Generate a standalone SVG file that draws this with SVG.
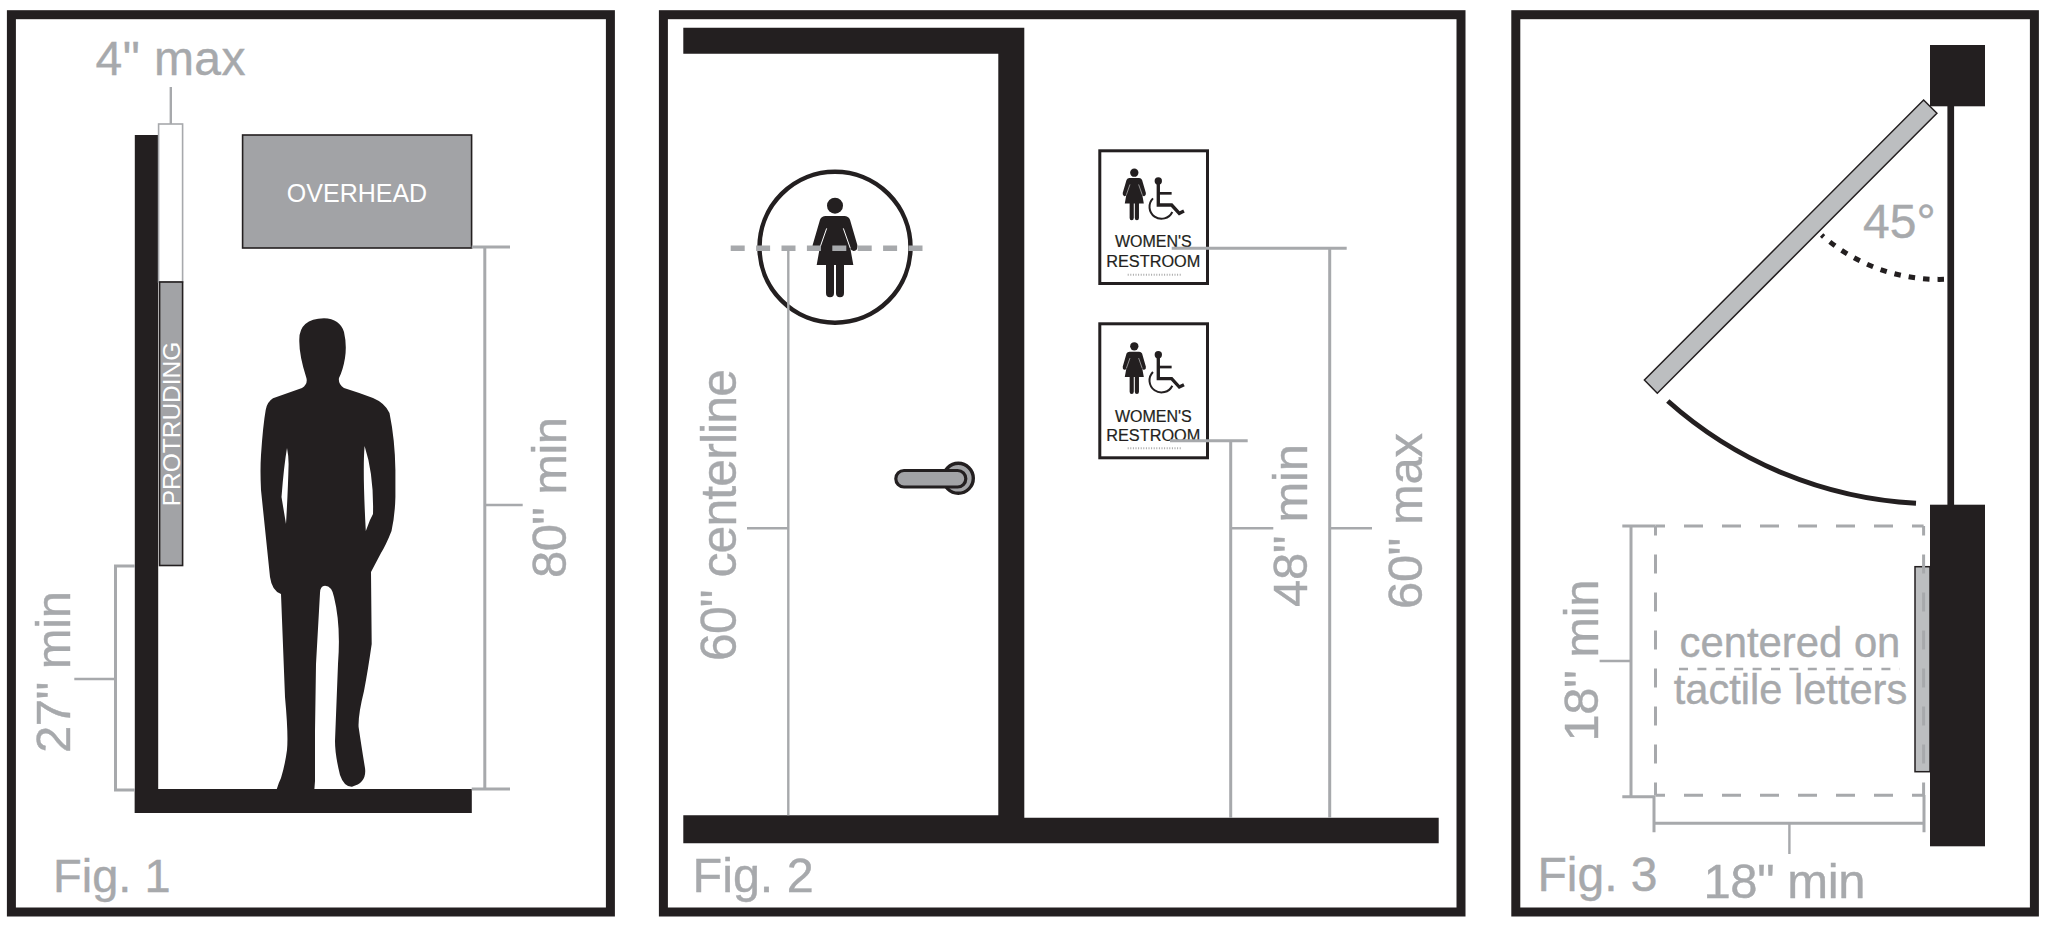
<svg xmlns="http://www.w3.org/2000/svg" width="2048" height="928" viewBox="0 0 2048 928">
<style>
text{font-family:"Liberation Sans",Arial,sans-serif}
.d{fill:#231f20}
.fr{fill:#fff;stroke:#231f20;stroke-width:9}
.g{stroke:#a7a9ac;stroke-width:3;fill:none}
.t{stroke:#a7a9ac;stroke-width:2.4;fill:none}
.lab{fill:#a7a9ac;font-size:48px;stroke:#a7a9ac;stroke-width:0.4}
.sign{fill:#fff;stroke:#231f20;stroke-width:3}
.st{fill:#231f20;stroke:#231f20;stroke-width:0.2;font-size:16px;text-anchor:middle}
.br{stroke:#aaa;stroke-width:2;stroke-dasharray:1 1.6;fill:none}
.ds{stroke:#a7a9ac;stroke-width:3;stroke-dasharray:19 19;stroke-dashoffset:9.5;fill:none}
</style>
<defs>
<g id="woman"><circle cx="0" cy="0" r="24" fill="#231f20"/><path fill="#231f20" d="M-28,31 H28 Q40,31 45,42 L67,118 Q69,134 57,136 Q49,137 46,128 L55,178 H27 V262 Q27,275 15,275 Q3,275 3,262 V178 H-3 V262 Q-3,275 -15,275 Q-27,275 -27,262 V178 H-55 L-46,128 Q-49,137 -57,136 Q-69,134 -67,118 L-45,42 Q-40,31 -28,31 Z"/><path d="M25,68 L46,128 M-25,68 L-46,128" stroke="#fff" stroke-width="3" fill="none"/></g>
<g id="chair" fill="none" stroke="#231f20"><circle cx="0" cy="0" r="11" fill="#231f20" stroke="none"/><path stroke-width="10" d="M0,0 V72 H40 L63,97 L77,90"/><path stroke-width="8" d="M0,37 H40"/><path stroke-width="6" d="M-16,52 A36,36 0 1 0 42,93"/></g>
</defs>

<g id="fig1">
<rect class="fr" x="11.4" y="14.7" width="599" height="897.3"/>
<g id="fig1-walls"><rect class="d" x="134.8" y="135" width="23.4" height="678"/><rect class="d" x="134.8" y="789" width="337" height="24"/></g>
<rect x="158.6" y="124" width="24" height="158" fill="#fff" stroke="#a7a9ac" stroke-width="1.6"/>
<g id="protruding"><rect x="159.6" y="282" width="23" height="283.5" fill="#a2a3a6" stroke="#231f20" stroke-width="1.6"/>
<text transform="translate(180,424) rotate(-90)" text-anchor="middle" font-size="24.5" fill="#fff">PROTRUDING</text></g>
<g id="overhead"><rect x="242.6" y="135" width="229" height="113" fill="#a2a3a6" stroke="#231f20" stroke-width="1.6"/>
<text x="357" y="201.5" text-anchor="middle" font-size="25" fill="#fff">OVERHEAD</text></g>
<g id="person"><path class="d" d="M324,318.3 Q340,319 344,332 Q347,345 345,358 Q343,370 339,378 Q338,384 344,388 Q360,393 373,398 Q385,403 389.5,413 Q395,440 395.4,470 V497 Q395,515 391.5,531 Q386,545 381,553 L371,572 L371.7,644 Q368,670 364,691 Q358,715 358.6,727 Q362,750 365,768 Q367,783 352,786.7 Q344,787 340,775 Q335,755 335,741 L338,664 Q341,625 334,597 Q332,586 325,585.7 Q320,586 320,593 L316,664 L315,731 V781 L314.4,789 H276.8 Q279,782 281,778 Q285,765 287,750 Q288.5,735 285,697 L281,594 Q272,591 270,577 L261,490 Q260,470 261,455 Q263,425 265.7,410 Q267,402 273,398.3 L302,388 Q308,384 306.4,378 Q299,355 299.3,340 Q299,319 324,318.3 Z"/>
<path fill="#fff" d="M287,448 Q284,465 281.5,497 L286,524 Q288,490 288.6,464 Q288.5,455 287,448 Z M364.6,446 Q362.5,470 365.8,531 L370,520 L373,514 Q374,475 364.6,446 Z"/></g>
<g id="fig1-connectors">
<path class="t" d="M170.8,87 V124"/>
<path class="g" d="M471.7,247 H510 M484.8,247 V789 M471.7,789 H510"/><path class="t" d="M484.8,505 H522.7"/>
<path class="g" d="M134.8,566 H115.5 V790 H134.8"/><path class="t" d="M74.3,679 H115.5"/>
</g>
<text class="lab" x="95.5" y="75" textLength="150">4" max</text>
<text class="lab" transform="translate(566,497.5) rotate(-90)" text-anchor="middle" textLength="161" style="font-size:49px">80" min</text>
<text class="lab" transform="translate(70,672) rotate(-90)" text-anchor="middle" textLength="162" style="font-size:49px">27" min</text>
<text class="lab" x="53" y="891.5" style="font-size:47px">Fig. 1</text>
</g>

<g id="fig2">
<rect class="fr" x="663.4" y="14.7" width="797.6" height="897.3"/>
<g id="fig2-walls"><path class="d" d="M683.3,27.7 H1024.3 V817.7 H1438.7 V843.3 H683.3 V815.3 H998.3 V53.7 H683.3 Z"/></g>
<g id="door-sign"><circle cx="835" cy="247.3" r="75.5" fill="#fff" stroke="#231f20" stroke-width="4.5"/>
<use href="#woman" transform="translate(835,205.7) scale(0.3333)"/></g>
<g id="handle"><circle cx="958.3" cy="478.3" r="15" fill="#a2a3a6" stroke="#231f20" stroke-width="3.4"/>
<rect x="895.8" y="470.5" width="70" height="16.5" rx="8.2" fill="#a2a3a6" stroke="#231f20" stroke-width="3.2"/></g>
<g id="sign-upper"><rect class="sign" x="1099.8" y="150.8" width="107.7" height="132.7"/>
<use href="#woman" transform="translate(1134.3,172.7) scale(0.173)"/><use href="#chair" transform="translate(1158.3,181) scale(0.3333)"/>
<text class="st" x="1153.3" y="246.7">WOMEN'S</text><text class="st" x="1153.3" y="266.7" style="font-size:16.3px">RESTROOM</text>
<path class="br" d="M1127.7,274.7 H1181"/></g>
<g id="sign-lower"><rect class="sign" x="1099.8" y="323.8" width="107.7" height="134"/>
<use href="#woman" transform="translate(1134.3,346.3) scale(0.173)"/><use href="#chair" transform="translate(1158.3,354.7) scale(0.3333)"/>
<text class="st" x="1153.3" y="421.7">WOMEN'S</text><text class="st" x="1153.3" y="441" style="font-size:16.3px">RESTROOM</text>
<path class="br" d="M1127.7,448.3 H1181"/></g>
<g id="fig2-connectors">
<path d="M730.7,248.3 H923" fill="none" stroke="#a7a9ac" stroke-width="5.5" stroke-dasharray="14 11.4"/>
<path class="t" d="M788.3,250 V815.3 M747,528.3 H788.3"/>
<path class="g" d="M1171.7,248.3 H1346.7 M1329.7,248.3 V817.7 M1170,440.7 H1247.7 M1230.7,440.7 V818"/>
<path class="t" d="M1329.7,528.3 H1372 M1230.7,528.3 H1273.3"/>
</g>
<text class="lab" transform="translate(736,515) rotate(-90)" text-anchor="middle" textLength="292" style="font-size:50px">60" centerline</text>
<text class="lab" transform="translate(1307,525.5) rotate(-90)" text-anchor="middle" textLength="163" style="font-size:49px">48" min</text>
<text class="lab" transform="translate(1421.5,521) rotate(-90)" text-anchor="middle" textLength="176" style="font-size:49px">60" max</text>
<text class="lab" x="692.5" y="891.5" style="font-size:48.5px">Fig. 2</text>
</g>

<g id="fig3">
<rect class="fr" x="1515.8" y="14.7" width="518.6" height="897.3"/>
<g id="fig3-walls"><rect class="d" x="1930" y="45" width="55" height="61.3"/><rect class="d" x="1930" y="504.7" width="55" height="341.6"/><rect class="d" x="1947.4" y="106" width="6.7" height="399"/></g>
<polygon id="door-leaf" points="1923.6,100 1936.9,113.3 1657.3,393.3 1644.4,380" fill="#bcbec0" stroke="#231f20" stroke-width="1.5"/>
<path id="door-swing" d="M1667.8,401 A405,405 0 0 0 1916,503.3" fill="none" stroke="#231f20" stroke-width="5"/>
<path id="angle-arc" d="M1944,279.3 A177,177 0 0 1 1821.6,235" fill="none" stroke="#231f20" stroke-width="5" stroke-dasharray="6.5 8"/>
<rect id="wall-sign" x="1915" y="566.7" width="15" height="205" fill="#bcbec0" stroke="#231f20" stroke-width="1.5"/>
<g id="clear-floor"><path class="ds" d="M1655.5,526 H1923.6"/><path class="ds" d="M1655.5,795.3 H1923.6"/><path class="ds" d="M1655.5,526 V795.3"/><path class="ds" d="M1923.6,526 V795.3"/>
<path d="M1679,669 H1900" fill="none" stroke="#a7a9ac" stroke-width="2.4" stroke-dasharray="9 9.4"/></g>
<g id="fig3-connectors">
<path class="g" d="M1622.3,526 H1655.5 M1631,526 V796.7 M1622.3,796.7 H1655.5 M1654,796.7 V832.3 M1654,823.3 H1924 M1924,795 V832.3"/>
<path class="t" d="M1599.6,661 H1631 M1789.4,823.3 V854"/>
</g>
<text class="lab" x="1863" y="238.3" style="font-size:48px">45°</text>
<text class="lab" x="1790" y="657" text-anchor="middle" style="font-size:41.8px">centered on</text>
<text class="lab" x="1790.5" y="704.3" text-anchor="middle" style="font-size:41.6px">tactile letters</text>
<text class="lab" transform="translate(1598,660.5) rotate(-90)" text-anchor="middle" textLength="162" style="font-size:49px">18" min</text>
<text class="lab" x="1703.5" y="897.7" textLength="162" style="font-size:49px">18" min</text>
<text class="lab" x="1537.5" y="891" style="font-size:48px">Fig. 3</text>
</g>
</svg>
